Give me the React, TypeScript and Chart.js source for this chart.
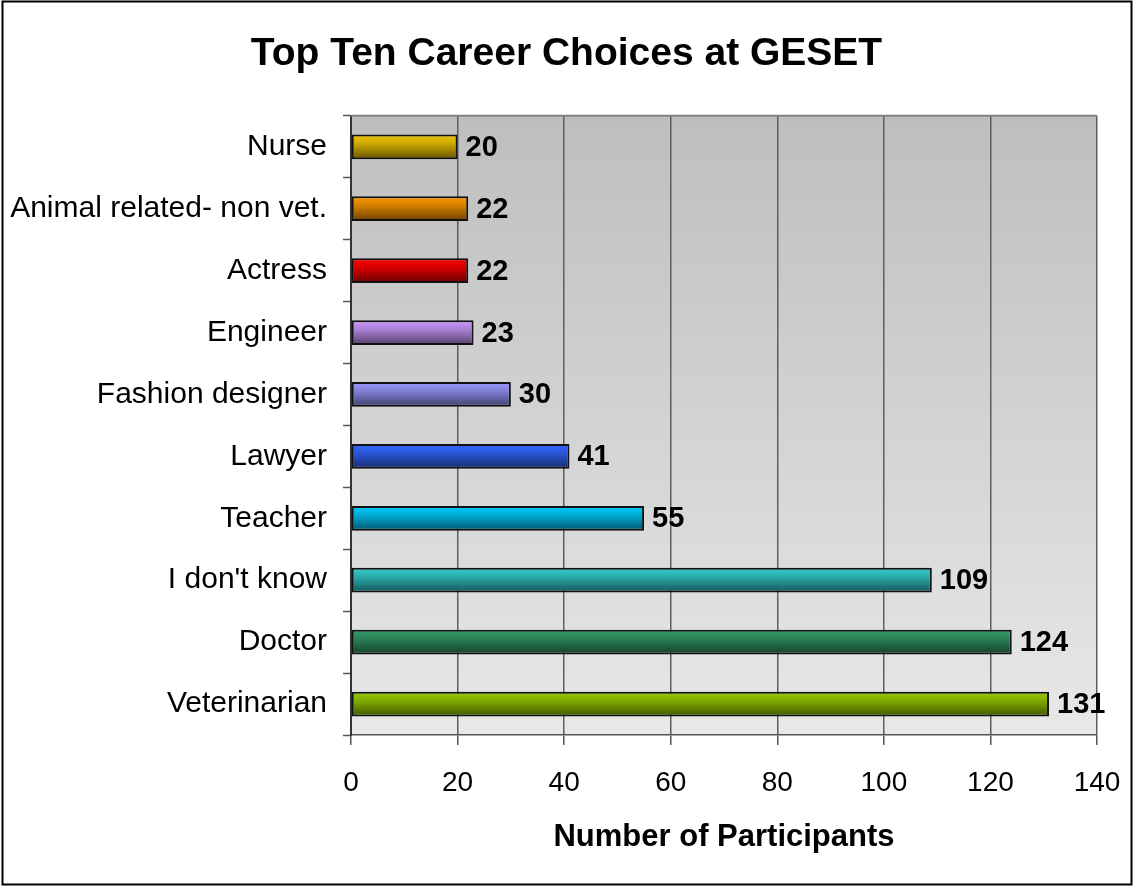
import { useEffect, useRef } from "react";
import { Chart, registerables } from "chart.js";

Chart.register(...registerables);

const categories = [
  "Nurse",
  "Animal related- non vet.",
  "Actress",
  "Engineer",
  "Fashion designer",
  "Lawyer",
  "Teacher",
  "I don't know",
  "Doctor",
  "Veterinarian",
];
const participants = [20, 22, 22, 23, 30, 41, 55, 109, 124, 131];
const barColors = [
  "#F5C800",
  "#FF9900",
  "#FF0000",
  "#CC99FF",
  "#9999FF",
  "#3366FF",
  "#00CCFF",
  "#33CCCC",
  "#339966",
  "#99CC00",
];
const xMin = 0;
const xMax = 140;
const xStep = 20;
const chartTitle = "Top Ten Career Choices at GESET";
const xAxisTitle = "Number of Participants";

const FONT = "'Liberation Sans', Arial, Helvetica, sans-serif";

function shade(hex: string, f: number): string {
  const n = parseInt(hex.slice(1), 16);
  const r = Math.round(((n >> 16) & 255) * f);
  const g = Math.round(((n >> 8) & 255) * f);
  const b = Math.round((n & 255) * f);
  return `rgb(${r},${g},${b})`;
}

const backgroundPlugin = {
  id: "bgPlugin",
  beforeDraw(chart: any) {
    const { ctx, chartArea, width, height } = chart;
    ctx.save();
    ctx.fillStyle = "#ffffff";
    ctx.fillRect(0, 0, width, height);
    const g = ctx.createLinearGradient(0, chartArea.top, 0, chartArea.bottom);
    g.addColorStop(0, "#BEBEBE");
    g.addColorStop(1, "#E8E8E8");
    ctx.fillStyle = g;
    ctx.fillRect(chartArea.left, chartArea.top, chartArea.right - chartArea.left, chartArea.bottom - chartArea.top);
    ctx.restore();
  },
  afterDraw(chart: any) {
    const { ctx, chartArea, width, height } = chart;
    ctx.save();
    ctx.strokeStyle = "#808080";
    ctx.lineWidth = 2;
    ctx.beginPath();
    ctx.moveTo(chartArea.left, chartArea.top);
    ctx.lineTo(chartArea.right, chartArea.top);
    ctx.stroke();
    ctx.strokeStyle = "#000000";
    ctx.lineWidth = 2;
    ctx.strokeRect(2.5, 1.5, width - 4, height - 3);
    ctx.restore();
  },
};

const valueLabelPlugin = {
  id: "valueLabels",
  afterDatasetsDraw(chart: any) {
    const { ctx } = chart;
    const meta = chart.getDatasetMeta(0);
    ctx.save();
    ctx.font = `bold 29px ${FONT}`;
    ctx.fillStyle = "#000000";
    ctx.textAlign = "left";
    ctx.textBaseline = "middle";
    meta.data.forEach((bar: any, i: number) => {
      const { x, y } = bar.getProps(["x", "y"], true);
      ctx.fillText(String(participants[i]), x + 8, y + 1);
    });
    ctx.restore();
  },
};

export default function App() {
  const canvasRef = useRef<HTMLCanvasElement | null>(null);

  useEffect(() => {
    if (!canvasRef.current) return;
    Chart.defaults.font.family = FONT;
    Chart.defaults.color = "#000000";

    const chart = new Chart(canvasRef.current, {
      type: "bar",
      data: {
        labels: categories,
        datasets: [
          {
            label: xAxisTitle,
            data: participants,
            backgroundColor: (c: any) => {
              const base = barColors[c.dataIndex ?? 0] || "#999999";
              const chartObj = c.chart;
              const ys = chartObj.scales && chartObj.scales.y;
              if (c.dataIndex === undefined || !ys) return base;
              const center = ys.getPixelForValue(c.dataIndex);
              const band = (ys.bottom - ys.top) / categories.length;
              const half = (band * 0.4) / 2;
              if (!isFinite(center) || !isFinite(half) || half <= 0) return base;
              const g = chartObj.ctx.createLinearGradient(0, center - half, 0, center + half);
              g.addColorStop(0, base);
              g.addColorStop(0.35, shade(base, 0.85));
              g.addColorStop(1, shade(base, 0.42));
              return g;
            },
            borderColor: "#111111",
            borderWidth: 2,
            borderSkipped: false,
            barPercentage: 0.4,
            categoryPercentage: 1,
          },
        ],
      },
      options: {
        indexAxis: "y",
        animation: false,
        responsive: false,
        layout: { padding: { left: 0, right: 0, top: 0, bottom: 0 } },
        plugins: {
          legend: { display: false },
          tooltip: { enabled: false },
          title: {
            display: true,
            text: chartTitle,
            color: "#000000",
            font: { size: 39, weight: "bold", family: FONT, lineHeight: 1.2 },
            padding: { top: 31, bottom: 38 },
          },
        },
        scales: {
          x: {
            type: "linear",
            min: xMin,
            max: xMax,
            ticks: {
              stepSize: xStep,
              font: { size: 28, family: FONT },
              color: "#000000",
              padding: 21,
              maxRotation: 0,
            },
            grid: {
              color: "#5e5e5e",
              lineWidth: 1.5,
              drawTicks: true,
              tickLength: 10,
              tickColor: "#555555",
              tickWidth: 1.5,
            },
            border: { display: true, color: "#555555", width: 1.5 },
            title: {
              display: true,
              text: xAxisTitle,
              color: "#000000",
              font: { size: 31, weight: "bold", family: FONT, lineHeight: 1.2 },
              padding: { top: 0, bottom: 30 },
            },
            afterFit: (scale: any) => {
              scale.height = 151;
              scale.paddingRight = 36;
              scale.paddingLeft = 0;
            },
          },
          y: {
            type: "category",
            offset: true,
            ticks: {
              font: { size: 30, family: FONT },
              color: "#000000",
              padding: 16,
            },
            grid: {
              offset: true,
              drawOnChartArea: false,
              drawTicks: true,
              tickLength: 8,
              tickColor: "#555555",
              tickWidth: 1.5,
            },
            border: { display: true, color: "#333333", width: 2 },
            afterFit: (scale: any) => {
              scale.width = 351;
            },
          },
        },
      },
      plugins: [backgroundPlugin, valueLabelPlugin],
    } as any);

    return () => chart.destroy();
  }, []);

  return (
    <div style={{ position: "absolute", left: 0, top: 0, width: 1133, height: 886, background: "#fff" }}>
      <canvas ref={canvasRef} width={1133} height={886} style={{ display: "block" }} />
    </div>
  );
}
